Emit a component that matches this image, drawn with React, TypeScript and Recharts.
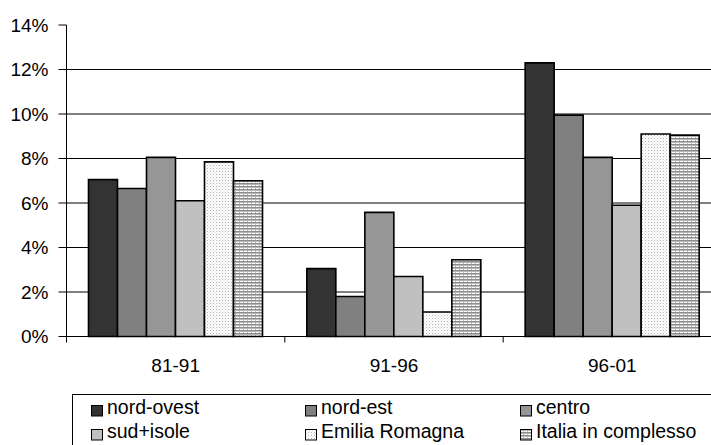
import React from 'react';
import { BarChart, Bar, XAxis, YAxis, CartesianGrid, Legend } from 'recharts';

// Periods on the category axis
const periods = ['81-91', '91-96', '96-01'];

// Percentage growth per area and period
const nordOvest = [7.05, 3.05, 12.3];
const nordEst = [6.65, 1.8, 9.95];
const centro = [8.05, 5.58, 8.05];
const sudIsole = [6.1, 2.7, 5.9];
const emiliaRomagna = [7.85, 1.1, 9.1];
const italia = [7.0, 3.45, 9.05];

// Series labels in legend order
const seriesNames = ['nord-ovest', 'nord-est', 'centro', 'sud+isole', 'Emilia Romagna', 'Italia in complesso'];

// Y axis ticks and horizontal grid lines
const yTicks = [0, 2, 4, 6, 8, 10, 12, 14];
const gridValues = [2, 4, 6, 8, 10, 12];

const FONT = '"Liberation Sans", Arial, sans-serif';

const data = periods.map((p, i) => ({
  period: p,
  nordOvest: nordOvest[i],
  nordEst: nordEst[i],
  centro: centro[i],
  sudIsole: sudIsole[i],
  emilia: emiliaRomagna[i],
  italia: italia[i],
}));

const series = [
  { key: 'nordOvest', fill: '#333333' },
  { key: 'nordEst', fill: '#808080' },
  { key: 'centro', fill: '#969696' },
  { key: 'sudIsole', fill: '#c0c0c0' },
  { key: 'emilia', fill: 'url(#dotFill)' },
  { key: 'italia', fill: 'url(#stripeFill)' },
];

const CHART_W = 722;
const CHART_H = 445;
const MARGIN = { top: 25, right: 0.5, bottom: 78.5, left: 10.5 };
const Y_AXIS_W = 56;
const X_TICK_SIZE = 6;
const X_TICK_MARGIN = 16.5;
const PLOT_W = CHART_W - MARGIN.left - MARGIN.right - Y_AXIS_W;

// Category label plus small tick marks on the band boundaries
const PeriodTick = (props: any) => {
  const { x, y, payload, index, visibleTicksCount } = props;
  const half = payload && typeof payload.offset === 'number' && payload.offset > 0
    ? payload.offset
    : PLOT_W / periods.length / 2;
  const axisY = y - X_TICK_SIZE - X_TICK_MARGIN;
  return (
    <g>
      <line x1={x - half} x2={x - half} y1={axisY} y2={axisY + X_TICK_SIZE} stroke="#000" />
      {index === visibleTicksCount - 1 && (
        <line x1={x + half} x2={x + half} y1={axisY} y2={axisY + X_TICK_SIZE} stroke="#000" />
      )}
      <text x={x} y={y} dy="0.71em" textAnchor="middle" fill="#000" fontSize={19} fontFamily={FONT}>
        {payload.value}
      </text>
    </g>
  );
};

const LegendBox = (props: any) => {
  const payload = [...(props.payload || [])].sort(
    (a: any, b: any) => seriesNames.indexOf(a.value) - seriesNames.indexOf(b.value)
  );
  const cols = [18, 232, 447];
  return (
    <div
      style={{
        position: 'relative',
        width: 720,
        height: 80,
        border: '1px solid #000',
        boxSizing: 'border-box',
        fontFamily: FONT,
        fontSize: 19.5,
        color: '#000',
      }}
    >
      {payload.map((entry: any, i: number) => {
        const col = cols[i % 3];
        const top = Math.floor(i / 3) * 24;
        return (
          <div key={entry.value} style={{ position: 'absolute', left: col, top, height: 24, whiteSpace: 'nowrap' }}>
            <svg width={12} height={12} style={{ position: 'absolute', left: 0, top: 9.5 }}>
              <rect x={0.5} y={0.5} width={11} height={10.5} fill={entry.color} stroke="#000" strokeWidth={1} />
            </svg>
            <span style={{ position: 'absolute', left: 16, top: 0, lineHeight: '24px' }}>{entry.value}</span>
          </div>
        );
      })}
    </div>
  );
};

export default function App() {
  return (
    <div style={{ position: 'absolute', left: 0, top: 0, width: 711, height: 445, overflow: 'hidden', background: '#fff' }}>
      <svg width={0} height={0} style={{ position: 'absolute' }}>
        <defs>
          <pattern id="dotFill" width={3} height={3} patternUnits="userSpaceOnUse">
            <rect width={3} height={3} fill="#ffffff" />
            <rect x={0} y={0} width={1} height={1} fill="#b0b0b0" />
            <rect x={1.5} y={1.5} width={1} height={1} fill="#d0d0d0" />
          </pattern>
          <pattern id="stripeFill" width={4} height={3} patternUnits="userSpaceOnUse">
            <rect width={4} height={3} fill="#ffffff" />
            <rect x={0} y={0} width={4} height={1} fill="#8c8c8c" />
            <rect x={0} y={1} width={4} height={1} fill="#b8b8b8" />
            <rect x={3} y={2} width={1} height={1} fill="#b8b8b8" />
          </pattern>
        </defs>
      </svg>
      <BarChart
        width={CHART_W}
        height={CHART_H}
        data={data}
        margin={MARGIN}
        barGap={0}
        barCategoryGap={22}
      >
        <CartesianGrid vertical={false} horizontalValues={gridValues} stroke="#000" strokeWidth={1} />
        <XAxis
          dataKey="period"
          interval={0}
          height={30}
          axisLine={{ stroke: '#000' }}
          tickLine={false}
          tickSize={X_TICK_SIZE}
          tickMargin={X_TICK_MARGIN}
          tick={<PeriodTick />}
        />
        <YAxis
          domain={[0, 14]}
          ticks={yTicks}
          interval={0}
          width={Y_AXIS_W}
          tickSize={8}
          tickMargin={10}
          tickFormatter={(v: number) => `${v}%`}
          axisLine={{ stroke: '#000' }}
          tickLine={{ stroke: '#000' }}
          tick={{ fill: '#000', fontSize: 19, fontFamily: FONT }}
        />
        {series.map((s, i) => (
          <Bar
            key={s.key}
            dataKey={s.key}
            name={seriesNames[i]}
            fill={s.fill}
            stroke="#000"
            strokeWidth={1.6}
            isAnimationActive={false}
          />
        ))}
        <Legend
          layout="vertical"
          align="center"
          verticalAlign="middle"
          content={<LegendBox />}
          wrapperStyle={{ left: 72, top: 394, width: 720, height: 80 }}
        />
      </BarChart>
    </div>
  );
}
